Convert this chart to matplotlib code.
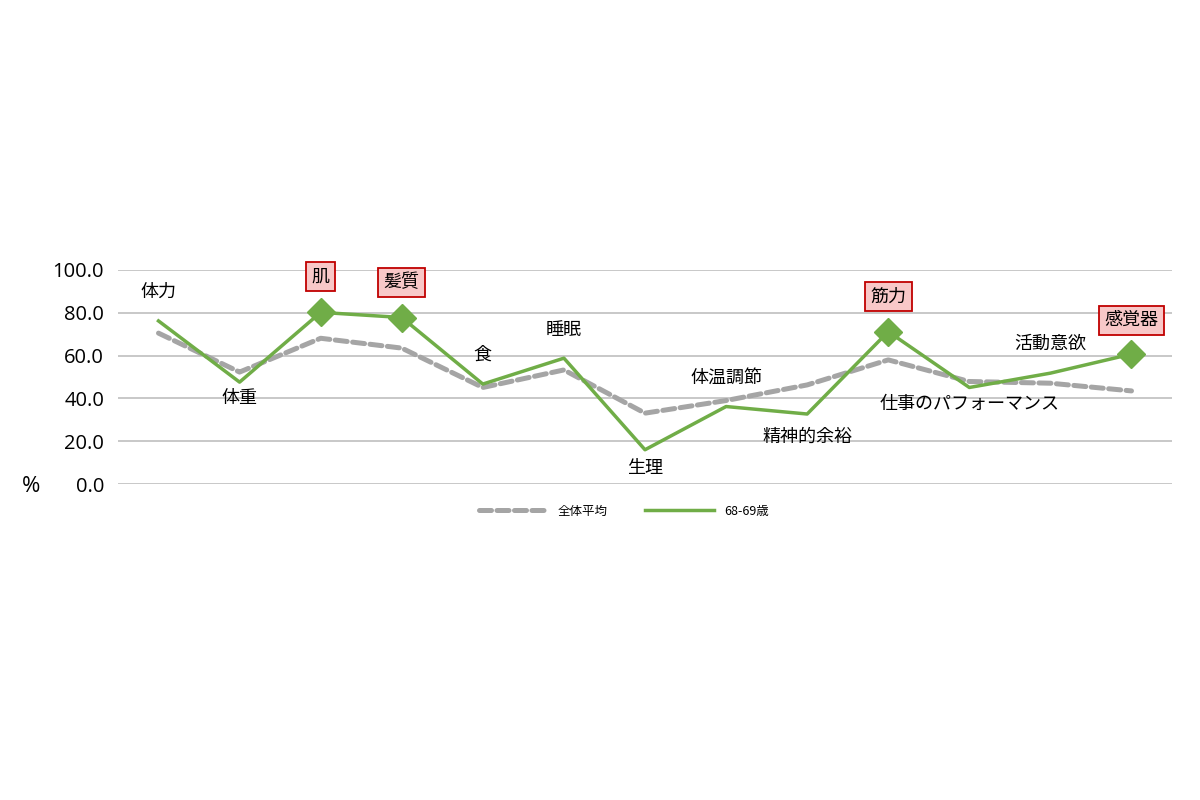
import matplotlib
matplotlib.use('Agg')
import matplotlib.pyplot as plt

plt.rcParams['font.family'] = ['Noto Sans CJK JP', 'DejaVu Sans']

# カテゴリと値
categories = ['体力', '体重', '肌', '髪質', '食', '睡眠', '生理', '体温調節',
              '精神的余裕', '筋力', '仕事のパフォーマンス', '活動意欲', '感覚器']
avg_all = [70.5, 52.3, 68.1, 63.5, 45.1, 53.3, 33.1, 39.0, 46.3, 58.0, 47.9, 47.1, 43.5]
age_6869 = [76.2, 47.6, 80.2, 77.8, 46.7, 58.8, 16.0, 36.2, 32.7, 71.2, 45.1, 51.8, 60.7]
highlight = ['肌', '髪質', '筋力', '感覚器']
yticks = [0, 20, 40, 60, 80, 100]

# ラベルの上下オフセット(ピクセル)
label_offsets = [29, -16, 36, 35, 29, 28, -18, 29, -23, 35, -16, 29, 34]

fig = plt.figure(figsize=(12, 8), dpi=100)
ax = fig.add_axes([0.0983, 0.395, 0.8784, 0.2675])

x = list(range(len(categories)))
ax.plot(x, avg_all, color='#A5A5A5', lw=3.6, dashes=(2.4, 1.1),
        solid_capstyle='round', dash_capstyle='round', label='全体平均', zorder=3)
ax.plot(x, age_6869, color='#70AD47', lw=2.5, label='68-69歳', zorder=4)

hx = [i for i, c in enumerate(categories) if c in highlight]
hy = [age_6869[i] for i in hx]
ax.plot(hx, hy, ls='none', marker='D', ms=14, color='#70AD47', zorder=5)

for i, c in enumerate(categories):
    if c in highlight:
        box = dict(boxstyle='square,pad=0.3', fc='#F8C8C8', ec='#C00000', lw=1.3)
    else:
        box = None
    ax.annotate(c, (i, age_6869[i]), xytext=(0, label_offsets[i]),
                textcoords='offset pixels', ha='center', va='center',
                fontsize=13, bbox=box, annotation_clip=False, zorder=6)

ax.set_xlim(-0.5, len(categories) - 0.5)
ax.set_ylim(0, 100)
ax.set_yticks(yticks)
ax.set_yticklabels([f'{v:.1f}' for v in yticks], fontsize=14.5, family='Open Sans')
ax.set_xticks([])
ax.tick_params(axis='y', length=0, pad=10)
ax.grid(axis='y', color='#BFBFBF', lw=1.2)
ax.set_axisbelow(True)
for s in ax.spines.values():
    s.set_visible(False)

fig.text(0.026, 0.392, '%', fontsize=16, ha='center', va='center', family='Open Sans')

ax.legend(loc='center', bbox_to_anchor=(0.52, 0.361), bbox_transform=fig.transFigure,
          ncol=2, frameon=False, fontsize=9, handlelength=5.5, columnspacing=3)

fig.savefig('out.png', dpi=100)
